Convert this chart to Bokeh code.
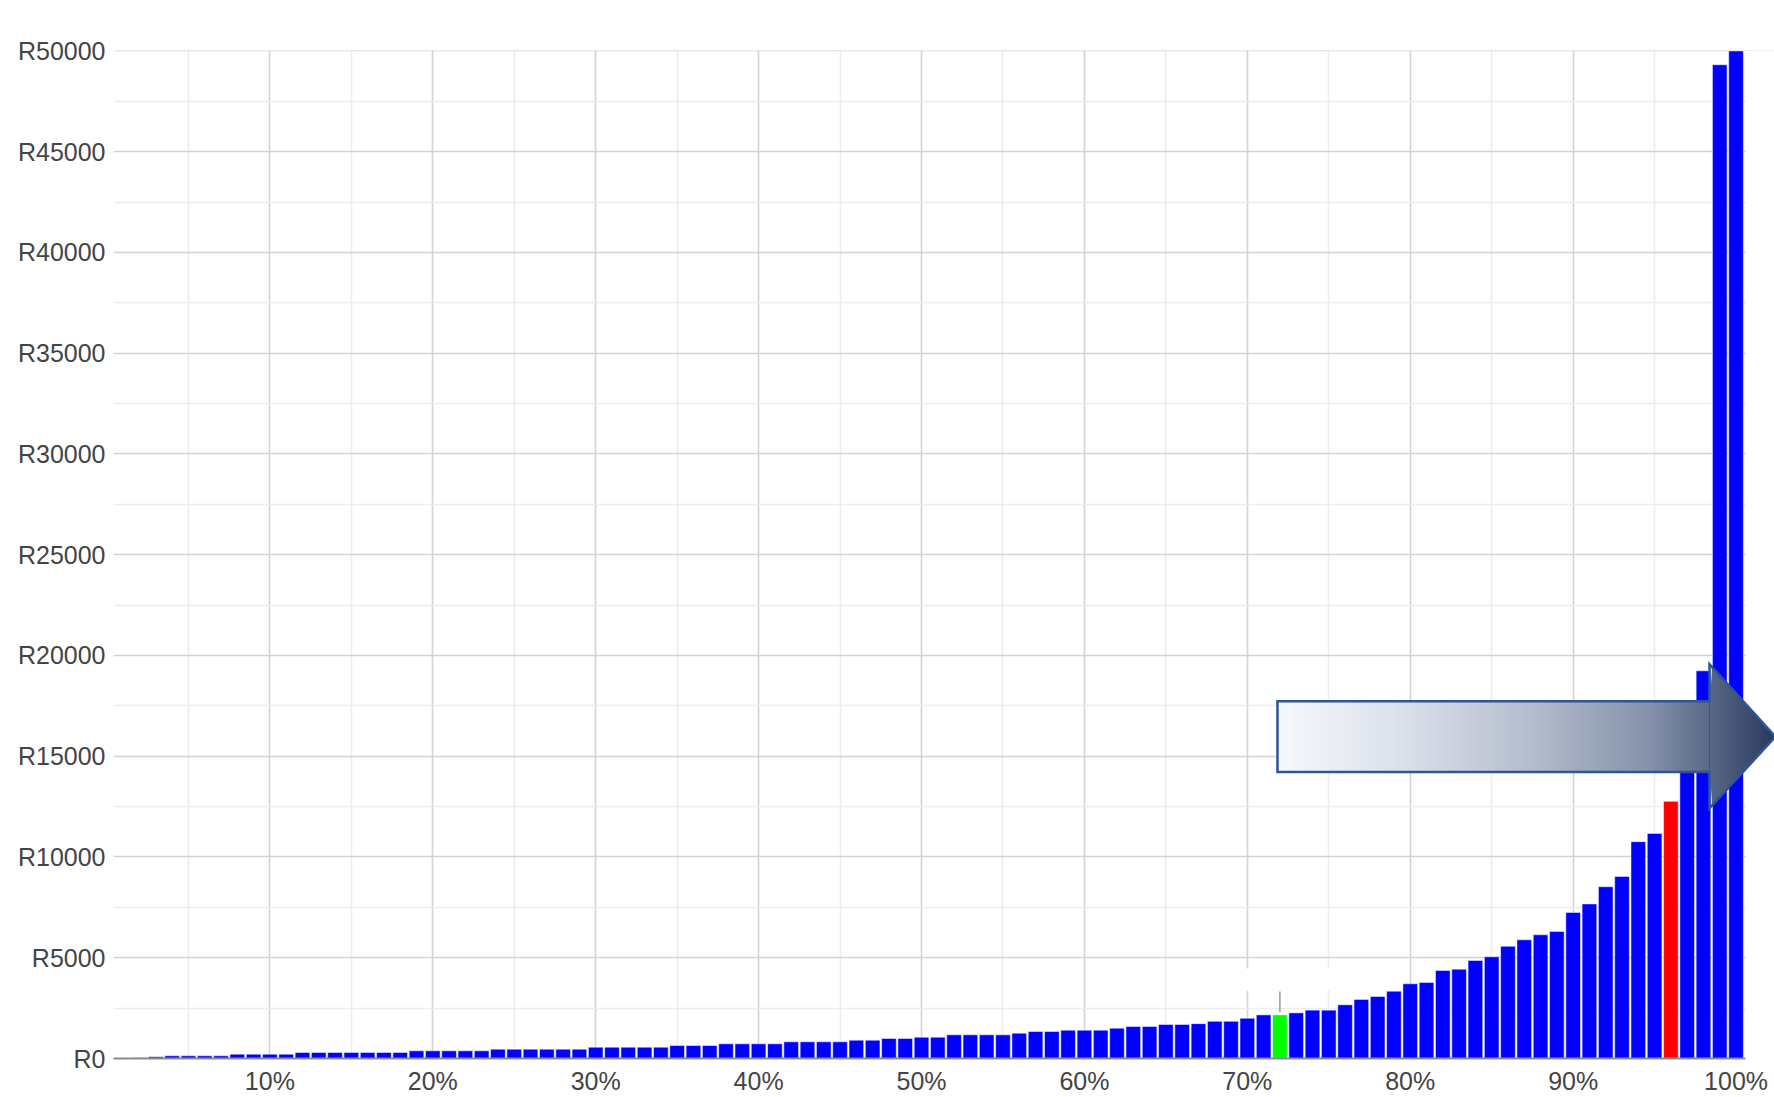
from bokeh.plotting import figure
from bokeh.models import Range1d, FixedTicker, PrintfTickFormatter, ColumnDataSource
from bokeh.embed import file_html
from bokeh.resources import INLINE

# ---------------- data ----------------
percentile = list(range(1, 101))
income = [0, 33, 83, 132, 132, 132, 132, 215, 215, 215,
          215, 298, 298, 298, 298, 298, 298, 298, 381, 381,
          381, 381, 381, 463, 463, 463, 463, 463, 463, 563,
          563, 563, 563, 563, 645, 645, 645, 728, 728, 728,
          728, 828, 828, 828, 828, 910, 910, 993, 993, 1059,
          1059, 1175, 1175, 1175, 1175, 1258, 1340, 1340, 1407, 1407,
          1407, 1506, 1589, 1589, 1688, 1688, 1730, 1845, 1845, 2000,
          2165, 2165, 2265, 2400, 2400, 2665, 2930, 3078, 3343, 3707,
          3773, 4369, 4435, 4866, 5048, 5570, 5892, 6140, 6306, 7249,
          7670, 8525, 9036, 10760, 11171, 12760, 15500, 19240, 49315, 50000]
green_percentile = 72
red_percentile = 96
x_ticks = [10, 20, 30, 40, 50, 60, 70, 80, 90, 100]
x_minor = [5, 15, 25, 35, 45, 55, 65, 75, 85, 95]
y_ticks = [0, 5000, 10000, 15000, 20000, 25000, 30000, 35000, 40000, 45000, 50000]
y_minor = [2500, 7500, 12500, 17500, 22500, 27500, 32500, 37500, 42500, 47500]

# arrow annotation geometry (data units)
ARROW_X0, ARROW_XB, ARROW_TIP = 71.85, 98.37, 102.42
BODY_BOT, BODY_TOP = 14215, 17726
HEAD_BOT, HEAD_TOP, ARROW_MID = 12413, 19563, 15970

colors = []
for pc in percentile:
    if pc == green_percentile:
        colors.append("#00ff00")
    elif pc == red_percentile:
        colors.append("#ff0000")
    else:
        colors.append("#0000ff")

src = ColumnDataSource(dict(x=percentile, top=income, color=colors))

X_START, X_END = 0.4, 102.36
p = figure(width=1774, height=1097, output_backend="svg", toolbar_location=None,
           x_range=Range1d(X_START, X_END), y_range=Range1d(0, 50020),
           min_border_left=113, min_border_top=50, min_border_right=0,
           background_fill_color="white", border_fill_color="white")
p.outline_line_color = None

# grids
p.xgrid.ticker = FixedTicker(ticks=x_ticks, minor_ticks=x_minor)
p.ygrid.ticker = FixedTicker(ticks=y_ticks, minor_ticks=y_minor)
for g in (p.xgrid, p.ygrid):
    g.grid_line_color = "#d3d3d3"
    g.grid_line_width = 1.6
    g.minor_grid_line_color = "#ededed"
    g.minor_grid_line_width = 1.6

# axes
xa = p.xaxis[0]
xa.ticker = FixedTicker(ticks=x_ticks, minor_ticks=[])
xa.formatter = PrintfTickFormatter(format="%d%%")
xa.bounds = (X_START, 100.6)
xa.axis_line_color = "#8c8c8c"
xa.axis_line_width = 2
xa.major_tick_line_color = None
xa.minor_tick_line_color = None
xa.major_tick_out = 0
xa.major_tick_in = 0
xa.major_label_standoff = 8

ya = p.yaxis[0]
ya.ticker = FixedTicker(ticks=y_ticks, minor_ticks=[])
ya.formatter = PrintfTickFormatter(format="R%d")
ya.axis_line_color = None
ya.major_tick_line_color = None
ya.minor_tick_line_color = None
ya.major_tick_out = 0
ya.major_tick_in = 0
ya.major_label_standoff = 8

for ax in (xa, ya):
    ax.major_label_text_font = "Liberation Sans"
    ax.major_label_text_font_size = "25px"
    ax.major_label_text_color = "#444444"

# cover grid lines right of the plotting area
p.quad(left=100.6, right=X_END + 1, bottom=0, top=50020,
       fill_color="white", line_color=None)

# small white patch over grid near the green bar
p.quad(left=68.3, right=75.2, bottom=3376, top=4470,
       fill_color="white", line_color=None)

# bars
p.vbar(x="x", top="top", bottom=0, width=0.9, source=src,
       fill_color="color", line_color="white", line_alpha=0.5, line_width=1)

# small marker above green bar
p.segment(x0=[green_percentile], y0=[2300], x1=[green_percentile], y1=[3330],
          line_color="#9a9a9a", line_width=1.5)

# gradient arrow
def top_at(x):
    if x <= ARROW_XB:
        return BODY_TOP
    return HEAD_TOP + (ARROW_MID - HEAD_TOP) * (x - ARROW_XB) / (ARROW_TIP - ARROW_XB)

def bot_at(x):
    if x <= ARROW_XB:
        return BODY_BOT
    return HEAD_BOT + (ARROW_MID - HEAD_BOT) * (x - ARROW_XB) / (ARROW_TIP - ARROW_XB)

stops = [(0.0, (246, 248, 252)), (0.25, (219, 224, 234)), (0.5, (182, 190, 206)),
         (0.75, (132, 145, 170)), (0.87, (88, 103, 134)), (1.0, (40, 56, 92))]

def grad(t):
    for (t0, c0), (t1, c1) in zip(stops[:-1], stops[1:]):
        if t <= t1:
            f = (t - t0) / (t1 - t0)
            return "#%02x%02x%02x" % tuple(int(round(a + (b - a) * f)) for a, b in zip(c0, c1))
    return "#%02x%02x%02x" % stops[-1][1]

xs_list, ys_list, fills = [], [], []
n_body, n_head = 150, 30
edges = [ARROW_X0 + (ARROW_XB - ARROW_X0) * i / n_body for i in range(n_body)] + \
        [ARROW_XB + (ARROW_TIP - ARROW_XB) * i / n_head for i in range(n_head + 1)]
span = ARROW_TIP - ARROW_X0
for a, b in zip(edges[:-1], edges[1:]):
    if a < ARROW_XB:
        b2 = min(b + 0.08, ARROW_XB)
        xs_list.append([a, b2, b2, a])
        ys_list.append([BODY_TOP, BODY_TOP, BODY_BOT, BODY_BOT])
    else:
        b2 = min(b + 0.05, ARROW_TIP)
        xs_list.append([a, b2, b2, a])
        ys_list.append([top_at(a), top_at(b2), bot_at(b2), bot_at(a)])
    fills.append(grad(((a + b) / 2 - ARROW_X0) / span))
p.patches(xs=xs_list, ys=ys_list, fill_color=fills, line_color=None)

# arrow outline
p.patch(x=[ARROW_X0, ARROW_XB, ARROW_XB, ARROW_TIP, ARROW_XB, ARROW_XB, ARROW_X0],
        y=[BODY_TOP, BODY_TOP, HEAD_TOP, ARROW_MID, HEAD_BOT, BODY_BOT, BODY_BOT],
        fill_color=None, line_color="#2f5597", line_width=2.5, line_join="miter")

open("out.html", "w").write(file_html(p, INLINE))
